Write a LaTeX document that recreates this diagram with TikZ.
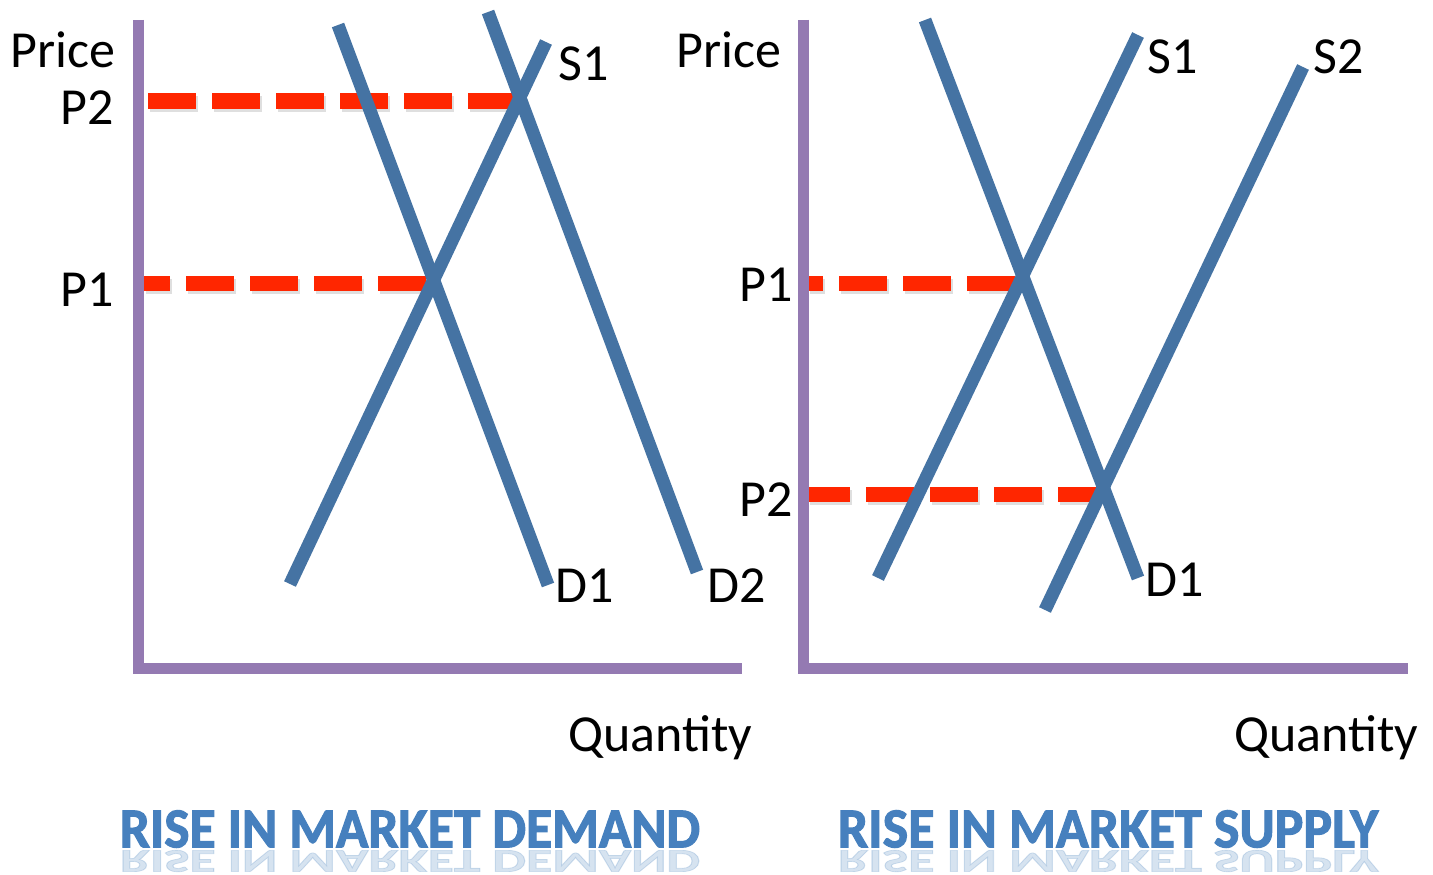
\documentclass[tikz,border=0pt]{standalone}
\usepackage{fontspec}
\usepackage{graphicx}
\setmainfont{Carlito}
\newfontfamily\titlefont[FakeBold=2]{Carlito}
\definecolor{axiscol}{RGB}{148,122,178}
\definecolor{curvecol}{RGB}{69,115,163}
\definecolor{pricecol}{RGB}{255,38,0}
\definecolor{titlecol}{RGB}{70,128,190}
\begin{document}
\begin{tikzpicture}[x=1pt,y=-1pt,
  axisline/.style={draw=axiscol,line width=11pt},
  curve/.style={draw=curvecol,line width=13pt},
  pline/.style={draw=pricecol,line width=15pt,dash pattern=on 48pt off 16pt},
  pshadow/.style={draw=black!35,opacity=.35,line width=15pt,dash pattern=on 48pt off 16pt},
  lbl/.style={font=\fontsize{52}{56}\selectfont,inner sep=0pt},
  ttl/.style={inner sep=0pt,text=titlecol}]
\useasboundingbox (0,0) rectangle (1433,875);
\fill[white] (0,0) rectangle (1433,875);
% ---------- left panel ----------
\coordinate (LAtop) at (138,20);
\coordinate (LAorg) at (138,668);
\coordinate (LAend) at (742,668);
\coordinate (LD1a) at (338,25);  \coordinate (LD1b) at (548,585);
\coordinate (LD2a) at (488,12);  \coordinate (LD2b) at (697,572);
\coordinate (LS1a) at (290,584); \coordinate (LS1b) at (546,42);
\coordinate (LP2a) at (148,101); \coordinate (LP2b) at (515,101);
\coordinate (LP1a) at (144,283); \coordinate (LP1b) at (430,283);
\draw[pshadow,transform canvas={shift={(1.5pt,-3pt)}}] (LP2a) -- (LP2b);
\draw[pshadow,dash phase=22pt,transform canvas={shift={(1.5pt,-3pt)}}] (LP1a) -- (LP1b);
\draw[pline] (LP2a) -- (LP2b);
\draw[pline,dash phase=22pt] (LP1a) -- (LP1b);
\draw[curve] (LD1a) -- (LD1b);
\draw[curve] (LD2a) -- (LD2b);
\draw[curve] (LS1a) -- (LS1b);
\draw[axisline] (LAtop) -- (LAorg) -- (LAend);
\node[lbl] (lprice) at (63,50) {Price};
\node[lbl] (lp2) at (87,108) {P2};
\node[lbl] (lp1) at (87,290) {P1};
\node[lbl] (ls1) at (584,64) {S1};
\node[lbl] (ld1) at (585,586) {D1};
\node[lbl] (ld2) at (737,586) {D2};
\node[lbl] (lqty) at (660,738) {Quantity};
\node[ttl] (ltitle) at (410,829) {\resizebox{580pt}{37pt}{\titlefont\bfseries RISE IN MARKET DEMAND}};
\node[ttl,yscale=-0.58,opacity=.22] (ltitlerefl) at (410,861) {\resizebox{580pt}{37pt}{\titlefont\bfseries RISE IN MARKET DEMAND}};
% ---------- right panel ----------
\coordinate (RAtop) at (803,20);
\coordinate (RAorg) at (803,668);
\coordinate (RAend) at (1408,668);
\coordinate (RD1a) at (925,20);   \coordinate (RD1b) at (1138,578);
\coordinate (RS1a) at (878,578);  \coordinate (RS1b) at (1138,35);
\coordinate (RS2a) at (1045,610); \coordinate (RS2b) at (1303,67);
\coordinate (RP1a) at (808,283);  \coordinate (RP1b) at (1015,283);
\coordinate (RP2a) at (808,494);  \coordinate (RP2b) at (1100,494);
\draw[pshadow,dash phase=33pt,transform canvas={shift={(1.5pt,-3pt)}}] (RP1a) -- (RP1b);
\draw[pshadow,dash phase=6pt,transform canvas={shift={(1.5pt,-3pt)}}] (RP2a) -- (RP2b);
\draw[pline,dash phase=33pt] (RP1a) -- (RP1b);
\draw[pline,dash phase=6pt] (RP2a) -- (RP2b);
\draw[curve] (RD1a) -- (RD1b);
\draw[curve] (RS1a) -- (RS1b);
\draw[curve] (RS2a) -- (RS2b);
\draw[axisline] (RAtop) -- (RAorg) -- (RAend);
\node[lbl] (rprice) at (729,50) {Price};
\node[lbl] (rs1) at (1173,57) {S1};
\node[lbl] (rs2) at (1339,57) {S2};
\node[lbl] (rp1) at (766,285) {P1};
\node[lbl] (rp2) at (766,500) {P2};
\node[lbl] (rd1) at (1175,580) {D1};
\node[lbl] (rqty) at (1326,738) {Quantity};
\node[ttl] (rtitle) at (1108,829) {\resizebox{540pt}{37pt}{\titlefont\bfseries RISE IN MARKET SUPPLY}};
\node[ttl,yscale=-0.58,opacity=.22] (rtitlerefl) at (1108,861) {\resizebox{540pt}{37pt}{\titlefont\bfseries RISE IN MARKET SUPPLY}};
\end{tikzpicture}
\end{document}
